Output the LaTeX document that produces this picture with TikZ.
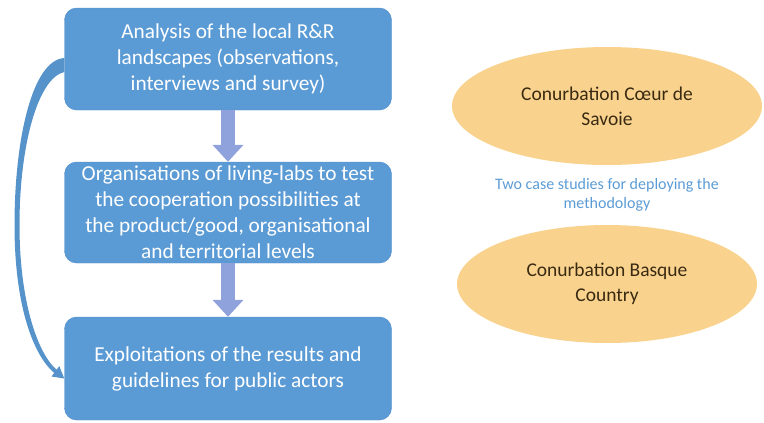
\documentclass[tikz,border=0pt]{standalone}
\usepackage{fontspec}
\setmainfont{Carlito}
\usetikzlibrary{shapes.geometric,arrows.meta,calc}
\definecolor{boxblue}{HTML}{5B9BD5}
\definecolor{boxedge}{HTML}{4F8BC9}
\definecolor{arrowlav}{HTML}{8FA2DC}
\definecolor{ovalfill}{HTML}{F9D38E}
\definecolor{ovaltext}{HTML}{3A2A12}
\definecolor{notetext}{HTML}{5B9BD5}
\tikzset{
  stagebox/.style={draw=boxedge, fill=boxblue, rounded corners=12pt,
    minimum width=327pt, text=white, align=center,
    font=\fontsize{21.3}{26}\selectfont},
  caseoval/.style={ellipse, fill=ovalfill, inner sep=0pt, text=ovaltext,
    align=center, font=\fontsize{19.5}{25}\selectfont},
  casenote/.style={text=notetext, align=center,
    font=\fontsize{16}{18.5}\selectfont},
  flowarrow/.style={line width=14pt, draw=arrowlav,
    -{Triangle[width=30pt,length=17pt]}},
  loopfill/.style={fill=boxblue!95!black}
}
\begin{document}
\begin{tikzpicture}[x=1pt,y=-1pt]
   \useasboundingbox (0,0) rectangle (764,423);

   % the three stages
   \node[stagebox, minimum height=102pt] (analysis) at (228,59)
      {Analysis of the local R\&R\\landscapes (observations,\\interviews and survey)};
   \node[stagebox, minimum height=101pt] (livinglabs) at (228,212.5)
      {Organisations of living-labs to test\\the cooperation possibilities at\\the product/good, organisational\\and territorial levels};
   \node[stagebox, minimum height=103pt] (exploit) at (228,368.5)
      {Exploitations of the results and\\guidelines for public actors};

   \draw[flowarrow] (analysis) -- (livinglabs);
   \draw[flowarrow] (livinglabs) -- (exploit);

   % feedback band from the first stage to the last one
   \coordinate (loopA) at ($(analysis.west)+(0,-1)$);
   \coordinate (loopB) at ($(analysis.west)+(0,13)$);
   \coordinate (looptip) at ($(exploit.west)+(0,10)$);
   \fill[loopfill] (loopA) .. controls (32,60) and (14.5,140) .. (14.5,225)
      .. controls (14.5,305) and (33,355) .. (54.2,372.9)
      -- (51.5,376.5) -- (looptip) -- (59.3,366.1) -- (56.6,369.7)
      .. controls (38,354) and (19.5,302) .. (19.5,225)
      .. controls (19.5,145) and (38,78) .. (loopB) -- cycle;

   % the two case studies
   \node[caseoval, minimum width=310pt, minimum height=118pt] (savoie) at (607,106)
      {Conurbation Cœur de\\Savoie};
   \node[caseoval, minimum width=300pt, minimum height=118pt] (basque) at (607,284)
      {Conurbation Basque\\Country};
   \node[casenote] (note) at (607,195)
      {Two case studies for deploying the\\methodology};
\end{tikzpicture}
\end{document}
